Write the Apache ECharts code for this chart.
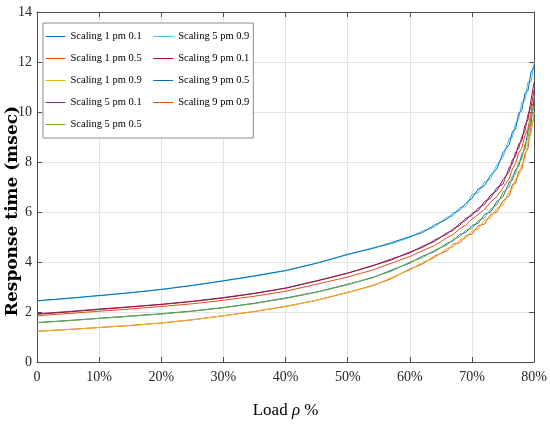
<!DOCTYPE html>
<html>
<head>
<meta charset="utf-8">
<script src="https://cdn.jsdelivr.net/npm/echarts@6/dist/echarts.min.js"></script>
<style>
html,body{margin:0;padding:0;background:#fff;}
#chart{width:550px;height:424px;}
</style>
</head>
<body>
<div id="chart"></div>
<script>
// Load (%) sample positions
var loads = [0,5,10,15,20,25,30,35,40,45,50,54,57,60,62,64,66,67,68,69,70,71,72,73,74,75,76,76.5,77,77.5,78,78.5,79,79.5,80];

var xTickLabels = ['0','10%','20%','30%','40%','50%','60%','70%','80%'];
var yTickLabels = ['0','2','4','6','8','10','12','14'];

var seriesNames = ['Scaling 1 pm 0.1','Scaling 1 pm 0.5','Scaling 1 pm 0.9','Scaling 5 pm 0.1','Scaling 5 pm 0.5','Scaling 5 pm 0.9','Scaling 9 pm 0.1','Scaling 9 pm 0.5','Scaling 9 pm 0.9'];
var seriesColors = ['#0072BD','#D95319','#EDB120','#7E2F8E','#77AC30','#4DBEEE','#A2142F','#0072BD','#D95319'];

// Response time (msec)
var s1pm01 = [1.58,1.66,1.75,1.84,1.93,2.04,2.18,2.35,2.56,2.80,3.11,3.37,3.67,3.96,4.23,4.42,4.75,4.85,5.10,5.18,5.46,5.55,5.90,6.00,6.42,6.62,7.20,7.28,7.70,7.82,8.30,8.52,9.25,9.55,10.5];
var s1pm05 = [1.23,1.30,1.38,1.46,1.56,1.69,1.85,2.02,2.22,2.47,2.78,3.06,3.33,3.72,3.92,4.24,4.45,4.72,4.76,5.06,5.12,5.45,5.52,5.90,6.00,6.45,6.65,7.10,7.15,7.62,7.70,8.32,8.55,9.45,9.75];
var s1pm09 = [1.23,1.30,1.38,1.46,1.56,1.69,1.85,2.02,2.23,2.47,2.79,3.04,3.37,3.68,3.98,4.17,4.55,4.60,4.88,4.95,5.25,5.32,5.68,5.76,6.15,6.28,6.85,6.92,7.35,7.42,7.90,8.10,8.80,9.15,10.0];
var s5pm01 = [1.93,2.02,2.12,2.21,2.31,2.43,2.58,2.75,2.96,3.25,3.56,3.84,4.12,4.36,4.63,4.82,5.18,5.26,5.55,5.66,5.95,6.05,6.42,6.55,6.98,7.12,7.80,7.92,8.40,8.52,9.00,9.22,9.90,10.2,10.9];
var s5pm05 = [1.57,1.65,1.74,1.83,1.92,2.03,2.17,2.34,2.54,2.79,3.09,3.39,3.63,4.00,4.17,4.48,4.68,4.92,5.00,5.28,5.34,5.66,5.76,6.12,6.28,6.80,7.00,7.45,7.52,8.00,8.10,8.70,8.95,9.85,10.2];
var s5pm09 = [2.44,2.54,2.65,2.77,2.91,3.07,3.24,3.43,3.65,3.96,4.29,4.57,4.73,4.98,5.24,5.40,5.80,5.85,6.18,6.22,6.70,6.78,7.20,7.32,7.90,8.20,8.95,8.98,9.55,9.70,10.40,10.45,11.2,11.2,12.0];
var s9pm01 = [1.91,2.00,2.10,2.20,2.30,2.42,2.56,2.74,2.95,3.24,3.55,3.86,4.08,4.40,4.58,4.88,5.12,5.34,5.46,5.75,5.86,6.16,6.30,6.68,6.85,7.30,7.62,8.10,8.22,8.72,8.85,9.45,9.70,10.5,11.2];
var s9pm05 = [2.45,2.55,2.66,2.77,2.90,3.06,3.25,3.45,3.66,3.95,4.31,4.54,4.77,5.02,5.18,5.48,5.72,5.95,6.08,6.35,6.55,6.92,7.05,7.48,7.72,8.38,8.70,9.22,9.31,9.95,10.05,10.75,10.85,11.6,11.8];
var s9pm09 = [1.85,1.94,2.03,2.12,2.22,2.33,2.47,2.63,2.83,3.11,3.40,3.68,3.95,4.22,4.45,4.66,4.98,5.10,5.33,5.48,5.72,5.90,6.10,6.40,6.62,6.98,7.35,7.72,7.95,8.35,8.55,9.05,9.35,10.0,10.6];

var allValues = [s1pm01,s1pm05,s1pm09,s5pm01,s5pm05,s5pm09,s9pm01,s9pm05,s9pm09];

var serif = 'Liberation Serif';
var axisColor = '#4d4d4d';
var gridColor = '#e4e4e4';

var series = allValues.map(function(vals, i){
  return {
    name: seriesNames[i],
    type: 'line',
    symbol: 'none',
    xAxisIndex: 0,
    yAxisIndex: 0,
    data: loads.map(function(x, j){ return [x, vals[j]]; }),
    lineStyle: {width: 1, color: seriesColors[i]},
    itemStyle: {color: seriesColors[i]},
    emphasis: {disabled: true},
    animation: false
  };
});

var chart = echarts.init(document.getElementById('chart'), null, {renderer:'canvas'});
chart.setOption({
  animation: false,
  backgroundColor: '#ffffff',
  grid: {left: 37, right: 13, top: 12, bottom: 59, containLabel: false},
  xAxis: [{
    type: 'value', min: 0, max: 80, interval: 10, position: 'bottom',
    axisLine: {show: true, onZero: false, lineStyle: {color: axisColor, width: 1}},
    axisTick: {show: true, inside: true, length: 5, lineStyle: {color: axisColor}},
    axisLabel: {
      margin: 8, color: '#262626', fontFamily: serif, fontSize: 14,
      formatter: function(v){ return xTickLabels[Math.round(v/10)]; }
    },
    splitLine: {show: true, lineStyle: {color: gridColor, width: 1}},
    name: '{a|Load }{b|ρ}{a| %}',
    nameLocation: 'middle', nameGap: 40,
    nameTextStyle: {
      rich: {
        a: {fontFamily: serif, fontSize: 17, color: '#000'},
        b: {fontFamily: serif, fontSize: 17, fontStyle: 'italic', color: '#000'}
      }
    }
  },{
    type: 'value', min: 0, max: 80, interval: 10, position: 'top',
    axisLine: {show: true, onZero: false, lineStyle: {color: axisColor, width: 1}},
    axisTick: {show: true, inside: true, length: 5, lineStyle: {color: axisColor}},
    axisLabel: {show: false},
    splitLine: {show: false}
  }],
  yAxis: [{
    type: 'value', min: 0, max: 14, interval: 2, position: 'left',
    axisLine: {show: true, onZero: false, lineStyle: {color: axisColor, width: 1}},
    axisTick: {show: true, inside: true, length: 5, lineStyle: {color: axisColor}},
    axisLabel: {
      margin: 5, color: '#262626', fontFamily: serif, fontSize: 14,
      formatter: function(v){ return yTickLabels[Math.round(v/2)]; }
    },
    splitLine: {show: true, lineStyle: {color: gridColor, width: 1}}
  },{
    type: 'value', min: 0, max: 14, interval: 2, position: 'right',
    axisLine: {show: true, onZero: false, lineStyle: {color: axisColor, width: 1}},
    axisTick: {show: true, inside: true, length: 5, lineStyle: {color: axisColor}},
    axisLabel: {show: false},
    splitLine: {show: false}
  }],
  legend: {
    orient: 'vertical',
    left: 43, top: 23,
    height: 104,
    itemWidth: 20, itemHeight: 13, itemGap: 11,
    padding: [8, 4, 8, 2],
    backgroundColor: '#ffffff',
    borderColor: '#8c8c8c', borderWidth: 1,
    itemStyle: {opacity: 0},
    lineStyle: {width: 1},
    textStyle: {fontFamily: serif, fontSize: 10.5, color: '#000'},
    data: seriesNames.slice(),
    selectedMode: false
  },
  graphic: [{
    type: 'text',
    x: 13, y: 211,
    rotation: Math.PI/2,
    style: {
      text: 'Response time (msec)',
      fontFamily: 'DejaVu Serif', fontWeight: 'bold', fontSize: 17,
      fill: '#000', align: 'center', verticalAlign: 'middle'
    }
  }],
  series: series
});
</script>
</body>
</html>
